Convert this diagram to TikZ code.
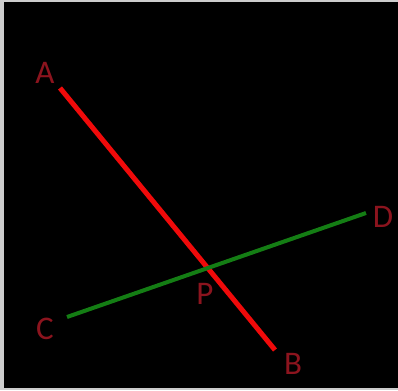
\documentclass[tikz,border=0pt]{standalone}
\usepackage{fontspec}
\setmainfont{Carlito}
\definecolor{lab}{RGB}{140,20,30}
\definecolor{redline}{RGB}{240,10,10}
\definecolor{greenline}{RGB}{20,125,20}
\definecolor{frame}{RGB}{205,205,205}
\begin{document}
\begin{tikzpicture}[x=1pt,y=-1pt,
  lbl/.style={text=lab,font=\fontsize{33}{33}\selectfont,inner sep=0pt}]
\fill[frame] (0,0) rectangle (398,390);
\fill[black] (4,2) rectangle (398,388);
\useasboundingbox (0,0) rectangle (398,390);
\coordinate (A) at (60,88);
\coordinate (B) at (275,350);
\coordinate (C) at (67,317);
\coordinate (D) at (366,213);
\draw[redline,line width=5pt] (A) -- (B);
\draw[greenline,line width=4pt] (C) -- (D);
\node[lbl] (la) at (45,73) {A};
\node[lbl] (lb) at (293,364) {B};
\node[lbl] (lc) at (45,329) {C};
\node[lbl] (ld) at (383,217) {D};
\node[lbl] (lp) at (205,294) {P};
\end{tikzpicture}
\end{document}
